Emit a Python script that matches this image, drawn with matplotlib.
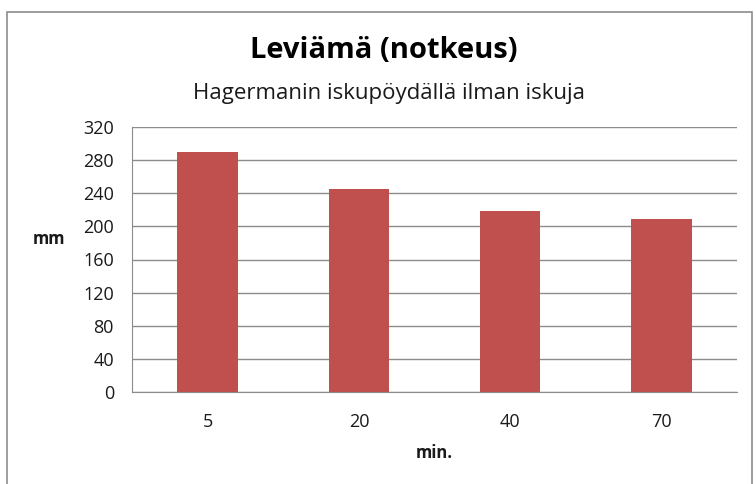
import matplotlib.pyplot as plt
import numpy as np

# data
minutes = ['5', '20', '40', '70']
spread_mm = [290, 245, 218, 209]
y_ticks = [0, 40, 80, 120, 160, 200, 240, 280, 320]

plt.rcParams['font.family'] = ['Open Sans', 'DejaVu Sans']

fig = plt.figure(figsize=(7.56, 4.84), dpi=100)
fig.patch.set_facecolor('white')

# outer chart frame (Excel style)
frame = plt.Rectangle((7 / 756, -0.05), (752 - 7) / 756, 1 - 12 / 484 + 0.05,
                      transform=fig.transFigure, fill=False,
                      edgecolor='#8c8c8c', linewidth=1.2)
fig.patches.append(frame)

ax = fig.add_axes([132 / 756, 1 - 392 / 484, (737 - 132) / 756, (392 - 127) / 484])

x = np.arange(len(minutes))
ax.bar(x, spread_mm, width=0.4, color='#C0504D', zorder=3)

ax.set_xlim(-0.5, len(minutes) - 0.5)
ax.set_ylim(0, 320)
ax.set_yticks(y_ticks)
ax.set_xticks(x)
ax.set_xticklabels(minutes)

ax.yaxis.grid(True, color='#8c8c8c', linewidth=1.0, zorder=0)
ax.set_axisbelow(True)

for side in ['top', 'right']:
    ax.spines[side].set_visible(False)
ax.spines['left'].set_color('#8c8c8c')
ax.spines['bottom'].set_color('#8c8c8c')
ax.tick_params(axis='both', length=0, labelsize=13, colors='#1a1a1a')
ax.tick_params(axis='y', pad=13)
ax.tick_params(axis='x', pad=15)

fig.text(384 / 756, 1 - 50 / 484, 'Leviämä (notkeus)', ha='center', va='center',
         fontsize=21, fontweight='bold', color='black')
fig.text(389 / 756, 1 - 93 / 484, 'Hagermanin iskupöydällä ilman iskuja',
         ha='center', va='center', fontsize=16, color='#1a1a1a')
fig.text(49 / 756, 1 - 239 / 484, 'mm', ha='center', va='center',
         fontsize=12, fontweight='bold', color='#1a1a1a')
fig.text(434 / 756, 1 - 453 / 484, 'min.', ha='center', va='center',
         fontsize=12, fontweight='bold', color='#1a1a1a')

fig.savefig('out.png', dpi=100, facecolor='white')
